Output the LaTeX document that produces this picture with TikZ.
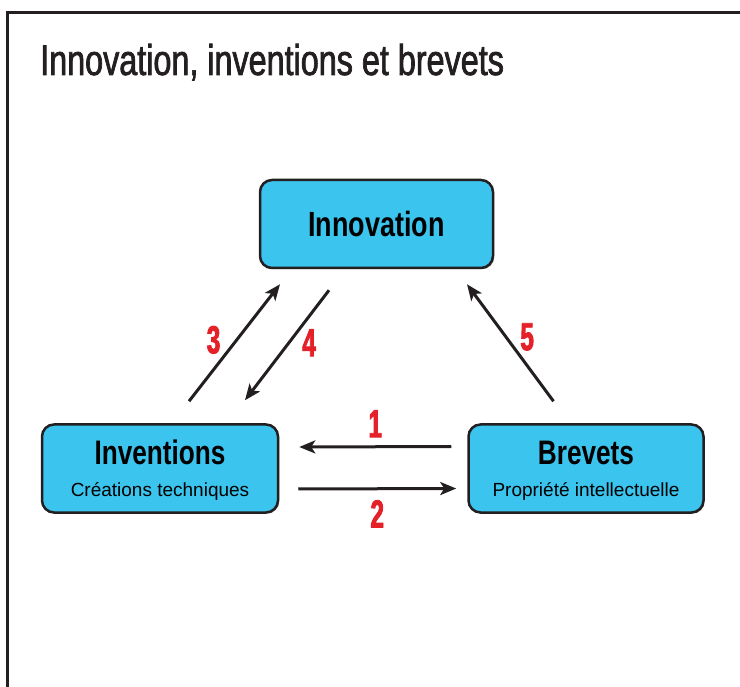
\documentclass[tikz,border=0pt]{standalone}
\usepackage{fontspec}
\setmainfont{Liberation Sans}
\newfontfamily\narrowfont[FakeStretch=0.77]{Liberation Sans}
\newfontfamily\headfont[FakeStretch=0.752,FakeBold=1.6]{Liberation Sans}
\newfontfamily\digitfont[FakeStretch=0.62,FakeBold=2.2]{Liberation Sans}
\usepackage{tikz}
\usetikzlibrary{
	positioning,
	arrows.meta,
	shadows
}
\definecolor{boxblue}{RGB}{58,196,238}
\definecolor{ink}{RGB}{35,31,32}
\definecolor{numred}{RGB}{228,32,40}

\begin{document}
\begin{tikzpicture}[x=1pt,y=-1pt,
	box/.style={draw=ink,line width=2.5pt,fill=boxblue,rounded corners=12pt,
		minimum height=88pt,align=center,text depth=0pt,
		font=\fontsize{19}{32}\selectfont,
		drop shadow={shadow xshift=1.2pt,shadow yshift=-1.2pt,opacity=.6}},
	link/.style={ink,line width=3pt,-{Stealth[length=16pt,width=13pt,inset=4pt]}},
	num/.style={text=numred,inner sep=0pt,font=\digitfont\bfseries\fontsize{39}{39}\selectfont}]
	\useasboundingbox (0,0) rectangle (740,687);
	\draw[ink,line width=2.5pt] (7.5,687) -- (7.5,12.7) -- (740,12.7);
	\draw
		node [anchor=base west,inner sep=0pt,text=ink,font=\headfont\fontsize{43}{50}\selectfont]
		                                        (title) at (40,75) {Innovation, inventions et brevets}
		node [box,minimum width=233pt]          (inno) at (376.5,224)
			{{\narrowfont\bfseries\fontsize{35}{35}\selectfont Innovation}}
		node [box,minimum width=236pt]          (inv) at (160,468.5)
			{{\narrowfont\bfseries\fontsize{34}{34}\selectfont Inventions}\\Créations techniques}
		node [box,minimum width=235pt,right=188pt of inv] (brev)
			{{\narrowfont\bfseries\fontsize{34}{34}\selectfont Brevets}\\Propriété intellectuelle}

		([xshift=-16pt,yshift=22pt]brev.west) edge[link] node[num,above=8pt]{1}
			([xshift=20pt,yshift=21.5pt]inv.east)
		([xshift=19pt,yshift=-20.5pt]inv.east) edge[link] node[num,below=10pt]{2}
			([xshift=-11pt,yshift=-20pt]brev.west)
		([xshift=29pt,yshift=22pt]inv.north) edge[link] node[num,pos=.525,left=15pt]{3}
			([xshift=-96.5pt,yshift=-15pt]inno.south)
		([xshift=-47.5pt,yshift=-21pt]inno.south) edge[link] node[num,pos=.478,right=12pt]{4}
			([xshift=85pt,yshift=23pt]inv.north)
		([xshift=-32.5pt,yshift=22pt]brev.north) edge[link] node[num,pos=.55,right=13pt]{5}
			([xshift=90.5pt,yshift=-15pt]inno.south)
	;
\end{tikzpicture}
\end{document}
